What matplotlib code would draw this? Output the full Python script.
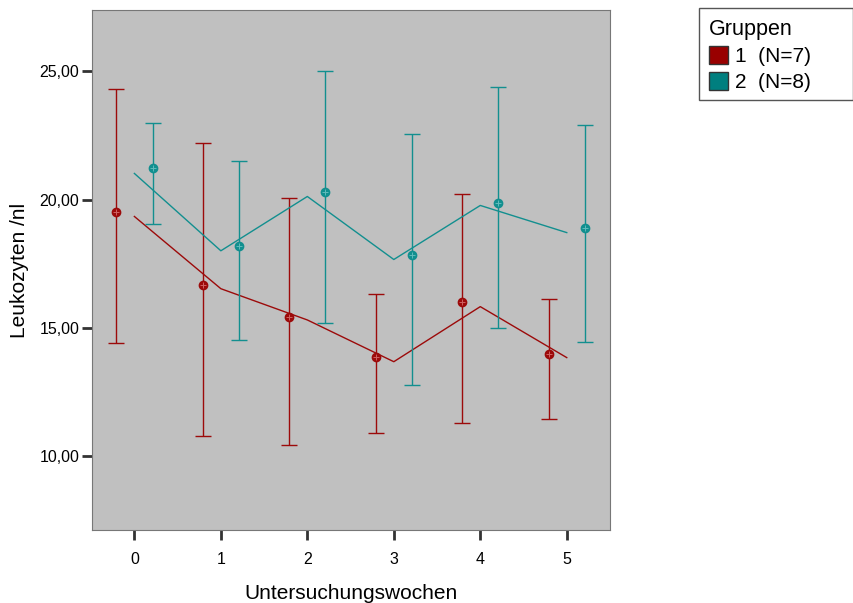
import numpy as np
import matplotlib.pyplot as plt
from matplotlib.patches import Patch, Rectangle
from matplotlib.ticker import FuncFormatter

plt.rcParams['font.family'] = ['Liberation Sans', 'DejaVu Sans']

wochen = [0, 1, 2, 3, 4, 5]

# Gruppe 1 (N=7): Mittelwert, Fehlerbalken oben/unten, Verlaufslinie
g1_mittel = [19.53, 16.68, 15.43, 13.87, 16.02, 13.98]
g1_oben = [24.30, 22.19, 20.08, 16.33, 20.23, 16.13]
g1_unten = [14.41, 10.78, 10.43, 10.90, 11.29, 11.45]
g1_linie = [19.34, 16.52, 15.30, 13.67, 15.82, 13.83]

# Gruppe 2 (N=8)
g2_mittel = [21.25, 18.20, 20.31, 17.85, 19.88, 18.90]
g2_oben = [23.00, 21.52, 25.00, 22.54, 24.41, 22.93]
g2_unten = [19.06, 14.53, 15.20, 12.77, 15.00, 14.45]
g2_linie = [21.02, 18.00, 20.12, 17.66, 19.77, 18.71]

rot = '#9c0a0a'
teal = '#128f8f'

fig = plt.figure(figsize=(8.54, 6.03), dpi=100)
ax = fig.add_axes([92/854, 1 - 530/603, 518/854, 520/603])
ax.set_facecolor('#c0c0c0')

x = np.array(wochen)

def gruppe(versatz, mittel, oben, unten, linie, farbe, hell):
    mittel = np.array(mittel)
    err = [mittel - np.array(unten), np.array(oben) - mittel]
    ax.errorbar(x + versatz, mittel, yerr=err, fmt='none', ecolor=farbe,
                elinewidth=1, capsize=6, capthick=1)
    ax.plot(x + versatz, mittel, 'o', color=farbe, ms=6, mec=farbe)
    ax.plot(x + versatz, mittel, '+', color=hell, ms=5, mew=0.7)
    ax.plot(x, linie, '-', color=farbe, lw=1)

gruppe(-0.21, g1_mittel, g1_oben, g1_unten, g1_linie, rot, '#d06060')
gruppe(0.21, g2_mittel, g2_oben, g2_unten, g2_linie, teal, '#60bcbc')

ax.set_xlim(-0.49, 5.5)
ax.set_ylim(7.1, 27.4)
ax.set_xticks(wochen)
ax.set_yticks([10, 15, 20, 25])
ax.yaxis.set_major_formatter(FuncFormatter(lambda v, p: f'{v:.2f}'.replace('.', ',')))
ax.tick_params(axis='both', length=7, width=2, color='#333333', labelsize=11.5)
ax.tick_params(axis='x', pad=9)
ax.tick_params(axis='y', pad=2)
for s in ax.spines.values():
    s.set_color('#777777')

ax.set_xlabel('Untersuchungswochen', fontsize=15, labelpad=12)
ax.set_ylabel('Leukozyten /nl', fontsize=15, labelpad=8)

handles = [Patch(facecolor='#990000', edgecolor='#333333', label='1  (N=7)'),
           Patch(facecolor='#007f7f', edgecolor='#333333', label='2  (N=8)')]
leg = fig.legend(handles=handles, title='Gruppen', loc='upper left',
                 bbox_to_anchor=(709/854, 1 - 19/603), fontsize=15,
                 title_fontsize=15.5, frameon=False,
                 handlelength=0.9, handleheight=0.9, handletextpad=0.35,
                 borderpad=0, labelspacing=0.3, borderaxespad=0)
leg._legend_box.align = 'left'
fig.patches.append(Rectangle((699/854, 1 - 100/603), 154/854, 92/603,
                             transform=fig.transFigure, fill=False,
                             edgecolor='#555555', lw=1))

fig.savefig('out.png', dpi=100)
